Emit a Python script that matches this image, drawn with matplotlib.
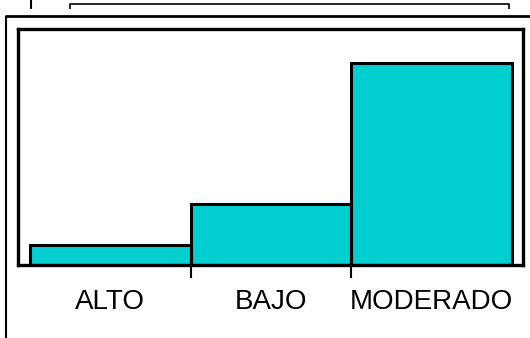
import numpy as np
import matplotlib.pyplot as plt
from matplotlib.lines import Line2D

categories = ['ALTO', 'BAJO', 'MODERADO']
counts = [10, 30, 100]

W, H = 530, 338
fig = plt.figure(figsize=(W / 100, H / 100), dpi=100)
plt.rcParams['font.family'] = ['Liberation Sans', 'DejaVu Sans']


def px_line(xs, ys, lw):
    # helper for the frame lines, given in pixels from the top-left corner
    fx = [x / W for x in xs]
    fy = [1 - y / H for y in ys]
    fig.add_artist(Line2D(fx, fy, transform=fig.transFigure, color='black',
                          lw=lw, solid_capstyle='butt'))


# frame pieces around the plot
px_line([30.5, 30.5], [0, 9], 1.5)
px_line([70, 70, 509, 509], [9, 4, 4, 9], 1.2)
px_line([5, 530], [16, 16], 2.0)
px_line([6, 6], [16, 338], 1.5)

ax = fig.add_axes([18 / W, 1 - 265 / H, 505 / W, 236 / H])
x = np.arange(len(categories))
ax.bar(x, counts, width=1.0, color='#00CED1', edgecolor='black', linewidth=2.2)

ax.set_xlim(-0.575, 2.569)
ax.set_ylim(0, 116.8)

for s in ax.spines.values():
    s.set_linewidth(2.4)

ax.set_yticks([])
ax.set_xticks([0.5, 1.5])
ax.set_xticklabels([])
ax.tick_params(axis='x', which='major', direction='out', length=9, width=1.5)
ax.set_xticks(x, minor=True)
ax.set_xticklabels(categories, minor=True, fontsize=20)
ax.tick_params(axis='x', which='minor', length=0, pad=17)

fig.savefig('out.png', dpi=100)
